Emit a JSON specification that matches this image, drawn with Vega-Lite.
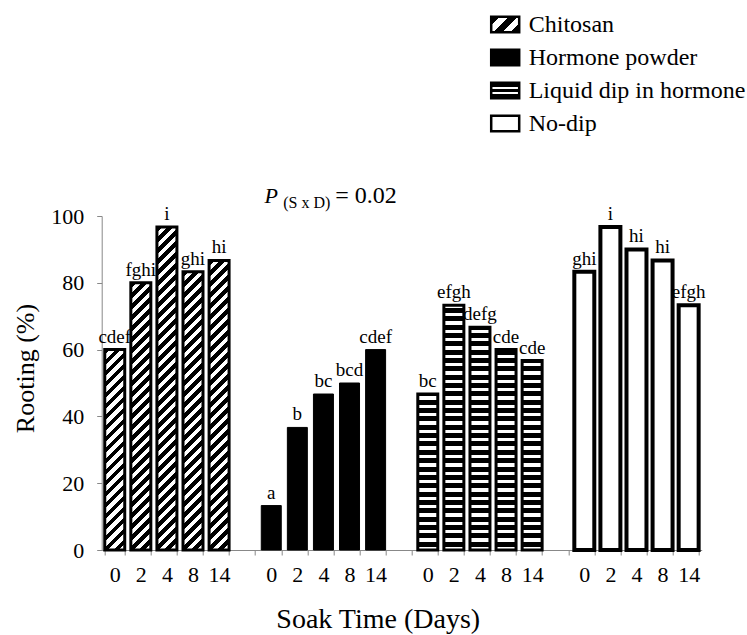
{
  "$schema": "https://vega.github.io/schema/vega-lite/v6.json",
  "width": 600,
  "height": 334,
  "autosize": {"type": "none"},
  "padding": {"left": 101.7, "top": 216, "right": 45.3, "bottom": 85},
  "background": "white",
  "config": {
    "view": {"stroke": null},
    "font": "Liberation Serif",
    "axis": {"labelFont": "Liberation Serif", "titleFont": "Liberation Serif", "labelColor": "#000", "titleColor": "#000", "titleFontWeight": "normal", "domainColor": "#888", "tickColor": "#888", "tickSize": 5, "grid": false},
    "axisY": {"tickCount": 10, "labelOverlap": false}
  },
  "params": [
    {"name": "dstops", "value": [
      {"offset":0,"color":"#000"},{"offset":0.015625,"color":"#000"},{"offset":0.015625,"color":"#fff"},{"offset":0.03125,"color":"#fff"},
      {"offset":0.03125,"color":"#000"},{"offset":0.046875,"color":"#000"},{"offset":0.046875,"color":"#fff"},{"offset":0.0625,"color":"#fff"},
      {"offset":0.0625,"color":"#000"},{"offset":0.078125,"color":"#000"},{"offset":0.078125,"color":"#fff"},{"offset":0.09375,"color":"#fff"},
      {"offset":0.09375,"color":"#000"},{"offset":0.109375,"color":"#000"},{"offset":0.109375,"color":"#fff"},{"offset":0.125,"color":"#fff"},
      {"offset":0.125,"color":"#000"},{"offset":0.140625,"color":"#000"},{"offset":0.140625,"color":"#fff"},{"offset":0.15625,"color":"#fff"},
      {"offset":0.15625,"color":"#000"},{"offset":0.171875,"color":"#000"},{"offset":0.171875,"color":"#fff"},{"offset":0.1875,"color":"#fff"},
      {"offset":0.1875,"color":"#000"},{"offset":0.203125,"color":"#000"},{"offset":0.203125,"color":"#fff"},{"offset":0.21875,"color":"#fff"},
      {"offset":0.21875,"color":"#000"},{"offset":0.234375,"color":"#000"},{"offset":0.234375,"color":"#fff"},{"offset":0.25,"color":"#fff"},
      {"offset":0.25,"color":"#000"},{"offset":0.265625,"color":"#000"},{"offset":0.265625,"color":"#fff"},{"offset":0.28125,"color":"#fff"},
      {"offset":0.28125,"color":"#000"},{"offset":0.296875,"color":"#000"},{"offset":0.296875,"color":"#fff"},{"offset":0.3125,"color":"#fff"},
      {"offset":0.3125,"color":"#000"},{"offset":0.328125,"color":"#000"},{"offset":0.328125,"color":"#fff"},{"offset":0.34375,"color":"#fff"},
      {"offset":0.34375,"color":"#000"},{"offset":0.359375,"color":"#000"},{"offset":0.359375,"color":"#fff"},{"offset":0.375,"color":"#fff"},
      {"offset":0.375,"color":"#000"},{"offset":0.390625,"color":"#000"},{"offset":0.390625,"color":"#fff"},{"offset":0.40625,"color":"#fff"},
      {"offset":0.40625,"color":"#000"},{"offset":0.421875,"color":"#000"},{"offset":0.421875,"color":"#fff"},{"offset":0.4375,"color":"#fff"},
      {"offset":0.4375,"color":"#000"},{"offset":0.453125,"color":"#000"},{"offset":0.453125,"color":"#fff"},{"offset":0.46875,"color":"#fff"},
      {"offset":0.46875,"color":"#000"},{"offset":0.484375,"color":"#000"},{"offset":0.484375,"color":"#fff"},{"offset":0.5,"color":"#fff"},
      {"offset":0.5,"color":"#000"},{"offset":0.515625,"color":"#000"},{"offset":0.515625,"color":"#fff"},{"offset":0.53125,"color":"#fff"},
      {"offset":0.53125,"color":"#000"},{"offset":0.546875,"color":"#000"},{"offset":0.546875,"color":"#fff"},{"offset":0.5625,"color":"#fff"},
      {"offset":0.5625,"color":"#000"},{"offset":0.578125,"color":"#000"},{"offset":0.578125,"color":"#fff"},{"offset":0.59375,"color":"#fff"},
      {"offset":0.59375,"color":"#000"},{"offset":0.609375,"color":"#000"},{"offset":0.609375,"color":"#fff"},{"offset":0.625,"color":"#fff"},
      {"offset":0.625,"color":"#000"},{"offset":0.640625,"color":"#000"},{"offset":0.640625,"color":"#fff"},{"offset":0.65625,"color":"#fff"},
      {"offset":0.65625,"color":"#000"},{"offset":0.671875,"color":"#000"},{"offset":0.671875,"color":"#fff"},{"offset":0.6875,"color":"#fff"},
      {"offset":0.6875,"color":"#000"},{"offset":0.703125,"color":"#000"},{"offset":0.703125,"color":"#fff"},{"offset":0.71875,"color":"#fff"},
      {"offset":0.71875,"color":"#000"},{"offset":0.734375,"color":"#000"},{"offset":0.734375,"color":"#fff"},{"offset":0.75,"color":"#fff"},
      {"offset":0.75,"color":"#000"},{"offset":0.765625,"color":"#000"},{"offset":0.765625,"color":"#fff"},{"offset":0.78125,"color":"#fff"},
      {"offset":0.78125,"color":"#000"},{"offset":0.796875,"color":"#000"},{"offset":0.796875,"color":"#fff"},{"offset":0.8125,"color":"#fff"},
      {"offset":0.8125,"color":"#000"},{"offset":0.828125,"color":"#000"},{"offset":0.828125,"color":"#fff"},{"offset":0.84375,"color":"#fff"},
      {"offset":0.84375,"color":"#000"},{"offset":0.859375,"color":"#000"},{"offset":0.859375,"color":"#fff"},{"offset":0.875,"color":"#fff"},
      {"offset":0.875,"color":"#000"},{"offset":0.890625,"color":"#000"},{"offset":0.890625,"color":"#fff"},{"offset":0.90625,"color":"#fff"},
      {"offset":0.90625,"color":"#000"},{"offset":0.921875,"color":"#000"},{"offset":0.921875,"color":"#fff"},{"offset":0.9375,"color":"#fff"},
      {"offset":0.9375,"color":"#000"},{"offset":0.953125,"color":"#000"},{"offset":0.953125,"color":"#fff"},{"offset":0.96875,"color":"#fff"},
      {"offset":0.96875,"color":"#000"},{"offset":0.984375,"color":"#000"},{"offset":0.984375,"color":"#fff"},{"offset":1,"color":"#fff"}
    ]},
    {"name": "hstops", "value": [
      {"offset":0,"color":"#000"},{"offset":0.02,"color":"#000"},{"offset":0.02,"color":"#fff"},{"offset":0.03333,"color":"#fff"},
      {"offset":0.03333,"color":"#000"},{"offset":0.05333,"color":"#000"},{"offset":0.05333,"color":"#fff"},{"offset":0.06667,"color":"#fff"},
      {"offset":0.06667,"color":"#000"},{"offset":0.08667,"color":"#000"},{"offset":0.08667,"color":"#fff"},{"offset":0.1,"color":"#fff"},
      {"offset":0.1,"color":"#000"},{"offset":0.12,"color":"#000"},{"offset":0.12,"color":"#fff"},{"offset":0.13333,"color":"#fff"},
      {"offset":0.13333,"color":"#000"},{"offset":0.15333,"color":"#000"},{"offset":0.15333,"color":"#fff"},{"offset":0.16667,"color":"#fff"},
      {"offset":0.16667,"color":"#000"},{"offset":0.18667,"color":"#000"},{"offset":0.18667,"color":"#fff"},{"offset":0.2,"color":"#fff"},
      {"offset":0.2,"color":"#000"},{"offset":0.22,"color":"#000"},{"offset":0.22,"color":"#fff"},{"offset":0.23333,"color":"#fff"},
      {"offset":0.23333,"color":"#000"},{"offset":0.25333,"color":"#000"},{"offset":0.25333,"color":"#fff"},{"offset":0.26667,"color":"#fff"},
      {"offset":0.26667,"color":"#000"},{"offset":0.28667,"color":"#000"},{"offset":0.28667,"color":"#fff"},{"offset":0.3,"color":"#fff"},
      {"offset":0.3,"color":"#000"},{"offset":0.32,"color":"#000"},{"offset":0.32,"color":"#fff"},{"offset":0.33333,"color":"#fff"},
      {"offset":0.33333,"color":"#000"},{"offset":0.35333,"color":"#000"},{"offset":0.35333,"color":"#fff"},{"offset":0.36667,"color":"#fff"},
      {"offset":0.36667,"color":"#000"},{"offset":0.38667,"color":"#000"},{"offset":0.38667,"color":"#fff"},{"offset":0.4,"color":"#fff"},
      {"offset":0.4,"color":"#000"},{"offset":0.42,"color":"#000"},{"offset":0.42,"color":"#fff"},{"offset":0.43333,"color":"#fff"},
      {"offset":0.43333,"color":"#000"},{"offset":0.45333,"color":"#000"},{"offset":0.45333,"color":"#fff"},{"offset":0.46667,"color":"#fff"},
      {"offset":0.46667,"color":"#000"},{"offset":0.48667,"color":"#000"},{"offset":0.48667,"color":"#fff"},{"offset":0.5,"color":"#fff"},
      {"offset":0.5,"color":"#000"},{"offset":0.52,"color":"#000"},{"offset":0.52,"color":"#fff"},{"offset":0.53333,"color":"#fff"},
      {"offset":0.53333,"color":"#000"},{"offset":0.55333,"color":"#000"},{"offset":0.55333,"color":"#fff"},{"offset":0.56667,"color":"#fff"},
      {"offset":0.56667,"color":"#000"},{"offset":0.58667,"color":"#000"},{"offset":0.58667,"color":"#fff"},{"offset":0.6,"color":"#fff"},
      {"offset":0.6,"color":"#000"},{"offset":0.62,"color":"#000"},{"offset":0.62,"color":"#fff"},{"offset":0.63333,"color":"#fff"},
      {"offset":0.63333,"color":"#000"},{"offset":0.65333,"color":"#000"},{"offset":0.65333,"color":"#fff"},{"offset":0.66667,"color":"#fff"},
      {"offset":0.66667,"color":"#000"},{"offset":0.68667,"color":"#000"},{"offset":0.68667,"color":"#fff"},{"offset":0.7,"color":"#fff"},
      {"offset":0.7,"color":"#000"},{"offset":0.72,"color":"#000"},{"offset":0.72,"color":"#fff"},{"offset":0.73333,"color":"#fff"},
      {"offset":0.73333,"color":"#000"},{"offset":0.75333,"color":"#000"},{"offset":0.75333,"color":"#fff"},{"offset":0.76667,"color":"#fff"},
      {"offset":0.76667,"color":"#000"},{"offset":0.78667,"color":"#000"},{"offset":0.78667,"color":"#fff"},{"offset":0.8,"color":"#fff"},
      {"offset":0.8,"color":"#000"},{"offset":0.82,"color":"#000"},{"offset":0.82,"color":"#fff"},{"offset":0.83333,"color":"#fff"},
      {"offset":0.83333,"color":"#000"},{"offset":0.85333,"color":"#000"},{"offset":0.85333,"color":"#fff"},{"offset":0.86667,"color":"#fff"},
      {"offset":0.86667,"color":"#000"},{"offset":0.88667,"color":"#000"},{"offset":0.88667,"color":"#fff"},{"offset":0.9,"color":"#fff"},
      {"offset":0.9,"color":"#000"},{"offset":0.92,"color":"#000"},{"offset":0.92,"color":"#fff"},{"offset":0.93333,"color":"#fff"},
      {"offset":0.93333,"color":"#000"},{"offset":0.95333,"color":"#000"},{"offset":0.95333,"color":"#fff"},{"offset":0.96667,"color":"#fff"},
      {"offset":0.96667,"color":"#000"},{"offset":0.98667,"color":"#000"},{"offset":0.98667,"color":"#fff"},{"offset":1,"color":"#fff"}
    ]}
  ],
  "data": {"values": [
    {"slot": "C|0", "treatment": "Chitosan", "day": "0", "rooting": 60, "letters": "cdef"},
    {"slot": "C|2", "treatment": "Chitosan", "day": "2", "rooting": 80, "letters": "fghi"},
    {"slot": "C|4", "treatment": "Chitosan", "day": "4", "rooting": 96.7, "letters": "i"},
    {"slot": "C|8", "treatment": "Chitosan", "day": "8", "rooting": 83.3, "letters": "ghi"},
    {"slot": "C|14", "treatment": "Chitosan", "day": "14", "rooting": 86.7, "letters": "hi"},
    {"slot": "H|0", "treatment": "Hormone powder", "day": "0", "rooting": 13.3, "letters": "a"},
    {"slot": "H|2", "treatment": "Hormone powder", "day": "2", "rooting": 36.7, "letters": "b"},
    {"slot": "H|4", "treatment": "Hormone powder", "day": "4", "rooting": 46.7, "letters": "bc"},
    {"slot": "H|8", "treatment": "Hormone powder", "day": "8", "rooting": 50, "letters": "bcd"},
    {"slot": "H|14", "treatment": "Hormone powder", "day": "14", "rooting": 60, "letters": "cdef"},
    {"slot": "L|0", "treatment": "Liquid dip in hormone", "day": "0", "rooting": 46.7, "letters": "bc"},
    {"slot": "L|2", "treatment": "Liquid dip in hormone", "day": "2", "rooting": 73.3, "letters": "efgh"},
    {"slot": "L|4", "treatment": "Liquid dip in hormone", "day": "4", "rooting": 66.7, "letters": "defg"},
    {"slot": "L|8", "treatment": "Liquid dip in hormone", "day": "8", "rooting": 60, "letters": "cde"},
    {"slot": "L|14", "treatment": "Liquid dip in hormone", "day": "14", "rooting": 56.7, "letters": "cde"},
    {"slot": "N|0", "treatment": "No-dip", "day": "0", "rooting": 83.3, "letters": "ghi"},
    {"slot": "N|2", "treatment": "No-dip", "day": "2", "rooting": 96.7, "letters": "i"},
    {"slot": "N|4", "treatment": "No-dip", "day": "4", "rooting": 90, "letters": "hi"},
    {"slot": "N|8", "treatment": "No-dip", "day": "8", "rooting": 86.7, "letters": "hi"},
    {"slot": "N|14", "treatment": "No-dip", "day": "14", "rooting": 73.3, "letters": "efgh"}
  ]},
  "layer": [
    {
      "mark": {
        "type": "bar",
        "fill": {"expr": "datum.treatment==='Chitosan' ? {gradient:'linear',x1:0,y1:0,x2:bandwidth('x')*352/(bandwidth('x')*bandwidth('x')+pow(height*datum.rooting/100,2)),y2:(height*datum.rooting/100)*352/(bandwidth('x')*bandwidth('x')+pow(height*datum.rooting/100,2)),stops:dstops} : datum.treatment==='Hormone powder' ? '#000' : datum.treatment==='Liquid dip in hormone' ? {gradient:'linear',x1:0,y1:1-75/datum.rooting,x2:0,y2:1,stops:hstops} : '#fff'"},
        "strokeWidth": {"expr": "datum.treatment==='No-dip' ? 4 : datum.treatment==='Hormone powder' ? 1 : 3"}
      },
      "encoding": {
        "x": {
          "field": "slot", "type": "nominal", "sort": null,
          "scale": {"domain": ["C|0","C|2","C|4","C|8","C|14","G1","H|0","H|2","H|4","H|8","H|14","G2","L|0","L|2","L|4","L|8","L|14","G3","N|0","N|2","N|4","N|8","N|14"], "paddingInner": 0.234, "paddingOuter": 0.117},
          "axis": {
            "title": "Soak Time (Days)",
            "labelExpr": "indexof(''+datum.label,'|')>0 ? slice(''+datum.label,2) : ''",
            "labelAngle": 0, "labelOverlap": false, "tickBand": "extent",
            "labelFontSize": 22, "labelPadding": 9,
            "titleFontSize": 28, "titleX": 276, "titleY": 77, "titleAlign": "center", "titleBaseline": "alphabetic"
          }
        },
        "y": {
          "field": "rooting", "type": "quantitative",
          "scale": {"domain": [0, 100], "nice": false},
          "axis": {
            "title": "Rooting (%)", "values": [0,10,20,30,40,50,60,70,80,90,100], "tickCount": 10,
            "labelOverlap": false, "labelFlush": false,
            "labelFontSize": 22, "labelPadding": 13,
            "titleFontSize": 26, "titleX": -68, "titleY": 152, "titleAngle": 270, "titleAlign": "center", "titleBaseline": "alphabetic"
          }
        },
        "stroke": {
          "field": "treatment", "type": "nominal",
          "scale": {"domain": ["Chitosan","Hormone powder","Liquid dip in hormone","No-dip"], "range": ["#000","#000","#000","#000"]},
          "legend": {
            "title": null, "orient": "none", "legendX": 388, "legendY": -207,
            "symbolType": "M-1,-0.55H1V0.55H-1Z", "symbolSize": 784, "symbolStrokeWidth": 2.5, "symbolStrokeColor": "#000",
            "labelFont": "Liberation Serif", "labelFontSize": 24, "labelColor": "#000", "labelOffset": 8, "labelLimit": 0,
            "rowPadding": 4, "padding": 0,
            "encoding": {"symbols": {"fill": {"value": {"expr": "datum.value==='Chitosan' ? {gradient:'linear',x1:0,y1:0,x2:1.19,y2:0.654,stops:[{offset:0,color:'#000'},{offset:0.2,color:'#000'},{offset:0.2,color:'#fff'},{offset:0.4,color:'#fff'},{offset:0.4,color:'#000'},{offset:0.6,color:'#000'},{offset:0.6,color:'#fff'},{offset:0.8,color:'#fff'},{offset:0.8,color:'#000'},{offset:1,color:'#000'}]} : datum.value==='Hormone powder' ? '#000' : datum.value==='Liquid dip in hormone' ? {gradient:'linear',x1:0,y1:0,x2:0,y2:1,stops:[{offset:0,color:'#000'},{offset:0.28,color:'#000'},{offset:0.28,color:'#fff'},{offset:0.43,color:'#fff'},{offset:0.43,color:'#000'},{offset:0.57,color:'#000'},{offset:0.57,color:'#fff'},{offset:0.72,color:'#fff'},{offset:0.72,color:'#000'},{offset:1,color:'#000'}]} : '#fff'"}}}}
          }
        }
      }
    },
    {
      "mark": {"type": "text", "baseline": "alphabetic", "dy": -7, "fontSize": 19, "font": "Liberation Serif", "color": "#000"},
      "encoding": {
        "x": {"field": "slot", "type": "nominal", "sort": null},
        "y": {"field": "rooting", "type": "quantitative"},
        "text": {"field": "letters"}
      }
    },
    {
      "data": {"values": [{"label": "P"}]},
      "mark": {"type": "text", "align": "center", "baseline": "alphabetic", "fontSize": 22, "fontStyle": "italic", "font": "Liberation Serif", "color": "#000"},
      "encoding": {
        "x": {"datum": "H|0", "type": "nominal"},
        "y": {"datum": 104, "type": "quantitative"},
        "text": {"field": "label"}
      }
    },
    {
      "data": {"values": [{"label": "(S x D)"}]},
      "mark": {"type": "text", "align": "left", "baseline": "alphabetic", "dx": 12, "fontSize": 16, "font": "Liberation Serif", "color": "#000"},
      "encoding": {
        "x": {"datum": "H|0", "type": "nominal"},
        "y": {"datum": 102.4, "type": "quantitative"},
        "text": {"field": "label"}
      }
    },
    {
      "data": {"values": [{"label": "= 0.02"}]},
      "mark": {"type": "text", "align": "left", "baseline": "alphabetic", "dx": 64, "fontSize": 24, "font": "Liberation Serif", "color": "#000"},
      "encoding": {
        "x": {"datum": "H|0", "type": "nominal"},
        "y": {"datum": 104, "type": "quantitative"},
        "text": {"field": "label"}
      }
    }
  ]
}
